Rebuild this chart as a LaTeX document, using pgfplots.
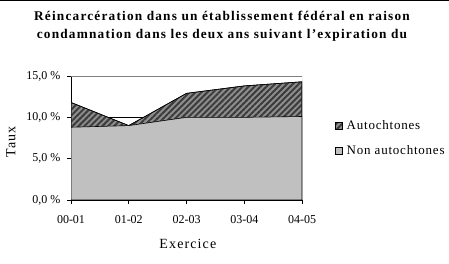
\documentclass[border=0pt]{standalone}
\usepackage{pgfplots}
\pgfplotsset{compat=1.18}
\usepackage{fontspec}
\setmainfont{Liberation Serif}
\usetikzlibrary{patterns.meta}
\definecolor{areagray}{HTML}{C0C0C0}
\definecolor{hatchbg}{HTML}{8E8E8E}
\definecolor{hatchfg}{HTML}{3C3C3C}
\definecolor{framegray}{HTML}{808080}
\begin{document}
\begin{tikzpicture}[x=1pt,y=1pt]
\path[use as bounding box] (0,0) rectangle (449,264);
\draw[line width=1pt] (0,263.5) -- (449,263.5);
\node[font=\bfseries\fontsize{13.3}{18}\selectfont\addfontfeature{LetterSpace=9}, align=center, anchor=north] at (222,256)
  {Réincarcération dans un établissement fédéral en raison\\condamnation dans les deux ans suivant l’expiration du};
\begin{axis}[
  scale only axis,
  width=231pt, height=124pt,
  at={(71pt,64pt)}, anchor=south west,
  xmin=0, xmax=4, ymin=0, ymax=15,
  xtick={0,1,2,3,4},
  xticklabels={00-01,01-02,02-03,03-04,04-05},
  ytick={0,5,10,15},
  yticklabels={{0,0 \%},{5,0 \%},{10,0 \%},{15,0 \%}},
  axis x line*=bottom, axis y line*=left,
  axis line style={black, line width=0.6pt},
  tick align=outside,
  major tick length=4pt,
  tick style={black, line width=0.6pt},
  ymajorgrids, grid style={black, line width=0.5pt},
  ticklabel style={font=\fontsize{12}{14}\selectfont},
  xticklabel style={yshift=-8pt},
  yticklabel style={xshift=-3pt},
  xlabel={Exercice}, ylabel={Taux},
  label style={font=\fontsize{14}{16}\selectfont\addfontfeature{LetterSpace=8}},
  xlabel style={at={(axis description cs:0.506,-0.355)}, anchor=center},
  ylabel style={at={(axis description cs:-0.26,0.468)}, anchor=center},
  legend style={draw=none, fill=none, at={(1.13,0.5)}, anchor=west,
    font=\fontsize{13}{14}\selectfont\addfontfeature{LetterSpace=6}, row sep=10pt,
    legend cell align=left, nodes={inner xsep=4pt}},
  legend image code/.code={\draw[#1, draw=black, line width=0.5pt] (0pt,-3.5pt) rectangle (7pt,3.5pt);},
]
\addplot[draw=black, line width=0.6pt, fill=hatchbg,
  postaction={pattern={Lines[angle=45,distance=4.2pt,line width=2pt]}, pattern color=hatchfg}]
  coordinates {(0,11.8) (1,9.0) (2,12.9) (3,13.8) (4,14.3)} \closedcycle;
\addlegendentry{Autochtones}
\addplot[draw=black, line width=0.6pt, fill=areagray]
  coordinates {(0,8.8) (1,9.0) (2,10.0) (3,10.0) (4,10.1)} \closedcycle;
\addlegendentry{Non autochtones}
\draw[framegray, line width=0.6pt] (rel axis cs:0,1) -- (rel axis cs:1,1) -- (rel axis cs:1,0);
\end{axis}
\end{tikzpicture}
\end{document}
